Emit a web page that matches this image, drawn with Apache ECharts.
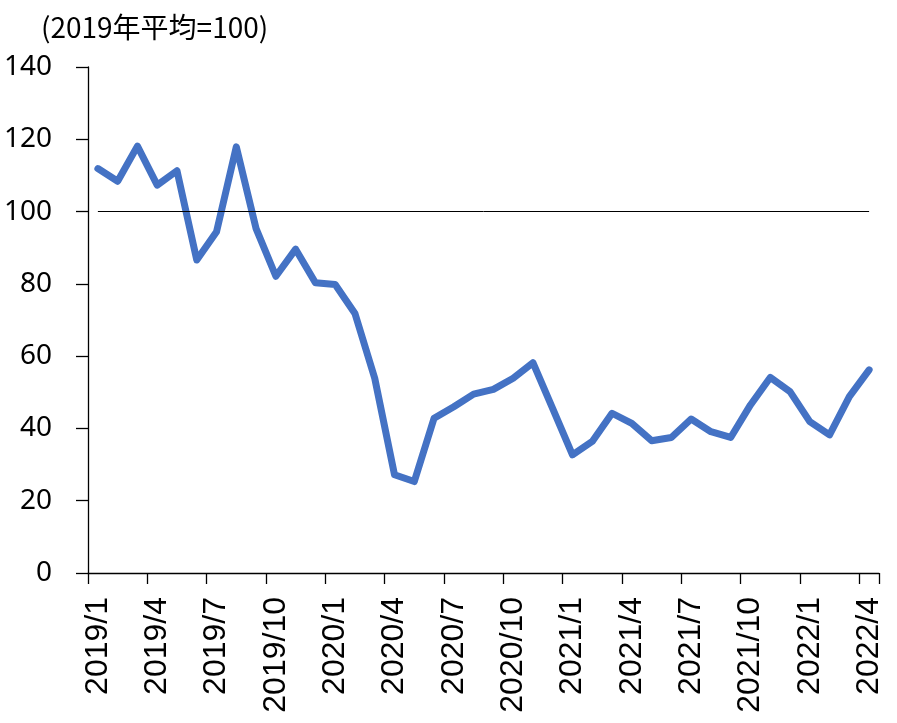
<!DOCTYPE html>
<html><head><meta charset="utf-8">
<script src="https://cdn.jsdelivr.net/npm/echarts@6/dist/echarts.min.js"></script>
<style>html,body{margin:0;padding:0;background:#fff}#c{width:897px;height:723px}</style>
</head><body><div id="c"></div>
<script>
const categories = [];
const years = [2019, 2020, 2021, 2022];
for (const y of years) for (let m = 1; m <= 12; m++) { if (y === 2022 && m > 4) break; categories.push(y + '/' + m); }
const values = [111.9,108.4,118.1,107.3,111.3,86.6,94.4,117.9,95.3,82.1,89.6,80.3,
  79.8,71.8,53.9,27.2,25.3,42.8,46.0,49.5,50.8,53.9,58.2,45.5,
  32.7,36.4,44.2,41.4,36.6,37.5,42.6,39.1,37.5,46.5,54.1,50.2,
  41.9,38.2,48.8,56.2];
const baseline = 100;
const yTicks = [0, 20, 40, 60, 80, 100, 120, 140];
const titleText = '(2019年平均=100)';

const chart = echarts.init(document.getElementById('c'));
chart.setOption({
  animation: false,
  title: { text: titleText, left: 36, top: 8,
    textStyle: { fontFamily: 'Noto Sans CJK JP', fontSize: 28, fontWeight: 'normal', color: '#000' } },
  grid: { left: 88, right: 18, top: 67, bottom: 150, containLabel: false },
  xAxis: {
    type: 'category', data: categories, boundaryGap: true,
    axisLine: { lineStyle: { color: '#000', width: 1.3 } },
    axisTick: { show: true, interval: 2, length: 11, lineStyle: { color: '#000', width: 1.3 } },
    axisLabel: { interval: 2, rotate: 90, margin: 24, color: '#000',
      fontFamily: 'Liberation Sans', fontSize: 32 },
    splitLine: { show: false }
  },
  yAxis: {
    type: 'value', min: yTicks[0], max: yTicks[yTicks.length - 1], interval: 20,
    axisLine: { show: true, lineStyle: { color: '#000', width: 1.3 } },
    axisTick: { show: true, length: 12, lineStyle: { color: '#000', width: 1.3 } },
    axisLabel: { margin: 36, color: '#000', fontFamily: 'Noto Sans', fontSize: 28 },
    splitLine: { show: false }
  },
  series: [{
    type: 'line', data: values, symbol: 'none',
    lineStyle: { color: '#4472C4', width: 7, join: 'round', cap: 'round' },
    markLine: {
      silent: true, symbol: 'none', label: { show: false },
      lineStyle: { color: '#000', width: 1, type: 'solid' },
      data: [[{ coord: [categories[0], baseline] }, { coord: [categories[categories.length - 1], baseline] }]]
    },
    z: 3
  }]
});
</script></body></html>
